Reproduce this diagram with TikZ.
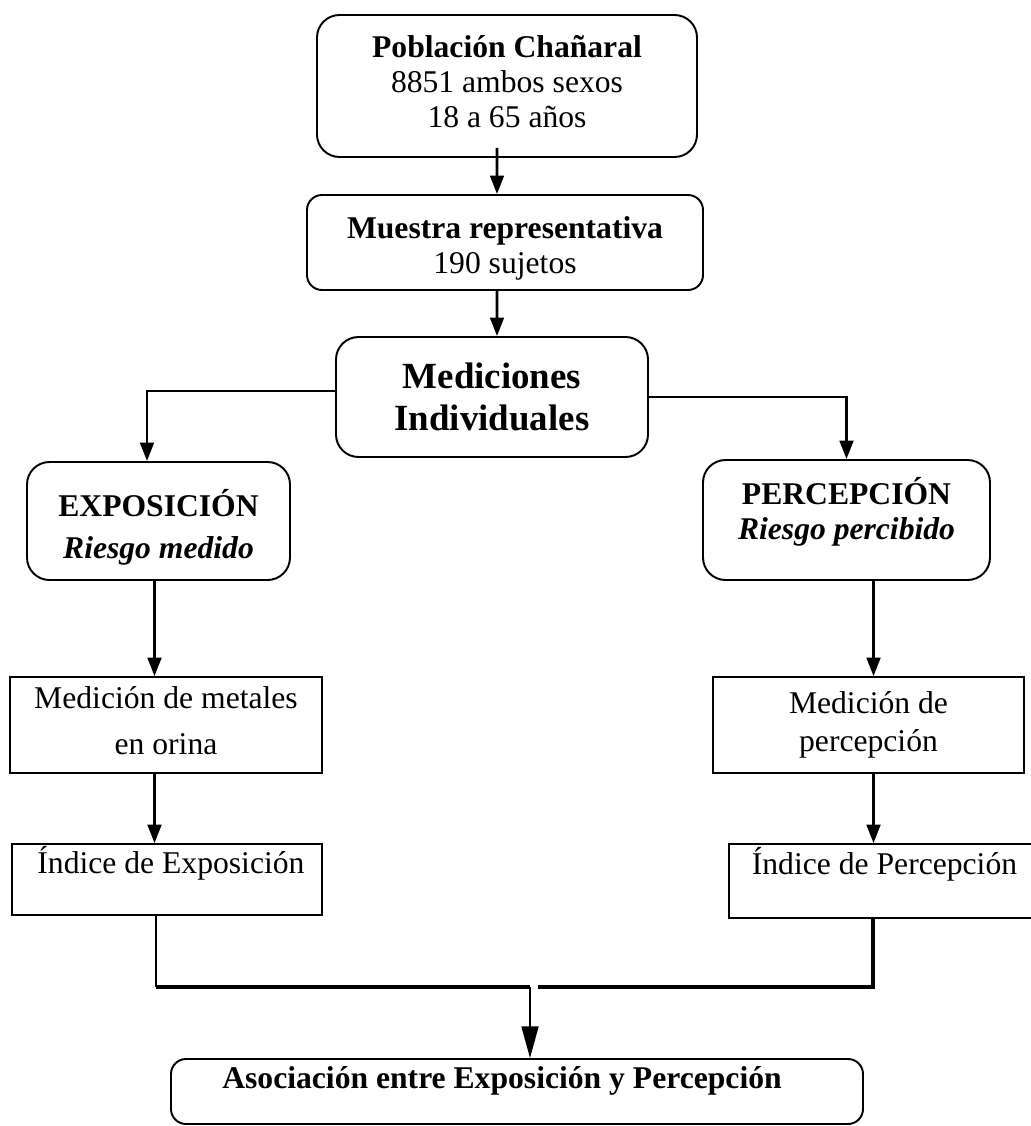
\documentclass[tikz,border=0pt]{standalone}
\usepackage{fontspec}
\setmainfont{Liberation Serif}
\usetikzlibrary{arrows.meta,calc}

\begin{document}
\begin{tikzpicture}[
    roundbox/.style={draw, line width=1.1pt, rounded corners=0.45cm, align=center,
        inner sep=0pt, font=\fontsize{18}{20}\selectfont},
    plainbox/.style={draw, line width=1pt, align=center, inner sep=0pt,
        font=\fontsize{18}{20}\selectfont},
    conn/.style={line width=1.5pt, -{Triangle[length=10.5pt,width=7.8pt]}},
    thickline/.style={line width=2.8pt},
    thinline/.style={line width=1.3pt}
]

    %% Flow of the Chañaral study

    \useasboundingbox (0, 0) rectangle (20.6, -22.52);

    % Top boxes
    \node[roundbox, minimum width=7.6cm, minimum height=2.84cm, text depth=5pt] (pob) at (10.14, -1.72)
        {\textbf{Población Chañaral}\\ 8851 ambos sexos\\ 18 a 65 años};
    \node[roundbox, rounded corners=0.3cm, minimum width=7.92cm, minimum height=1.9cm, text height=39pt] (mue) at (10.10, -4.85)
        {\textbf{Muestra representativa}\\ 190 sujetos};
    \node[roundbox, minimum width=6.24cm, minimum height=2.4cm,
        font=\fontsize{21}{24}\selectfont\bfseries] (med) at (9.84, -7.94)
        {Mediciones\\ Individuales};

    % Branches
    \node[roundbox, minimum width=5.26cm, minimum height=2.36cm, text height=47pt] (expo) at (3.17, -10.42)
        {\textbf{EXPOSICIÓN}\\[4pt] \textbf{\textit{Riesgo medido}}};
    \node[roundbox, minimum width=5.74cm, minimum height=2.4cm, text depth=13.5pt] (perc) at (16.93, -10.40)
        {\textbf{PERCEPCIÓN}\\ \textbf{\textit{Riesgo percibido}}};

    % Measurements
    \node[plainbox, minimum width=6.24cm, minimum height=1.92cm, text depth=5pt] (metal) at (3.32, -14.5)
        {Medición de metales\\[6pt] en orina};
    \node[plainbox, minimum width=6.22cm, minimum height=1.92cm] (mperc) at (17.37, -14.5)
        {Medición de\\[2pt] percepción};

    % Indices
    \node[plainbox, minimum width=6.2cm, minimum height=1.42cm, text depth=0.8cm] (iexp) at (3.34, -17.59)
        {\ Índice de Exposición};
    \node[plainbox, minimum width=6.22cm, minimum height=1.48cm, text depth=0.8cm] (iperc) at (17.69, -17.62)
        {Índice de Percepción};

    % Result
    \node[roundbox, rounded corners=0.3cm, minimum width=13.84cm, minimum height=1.3cm,
        text depth=0.56cm, font=\fontsize{18}{20}\selectfont\bfseries] (asoc) at (10.34, -21.83)
        {Asociación entre Exposición y Percepción\hspace{0.6cm}};

    % Arrows down the middle
    \draw[conn] ([xshift=-0.2cm, yshift=0.2cm]pob.south) -- ([xshift=-0.16cm]mue.north);
    \draw[conn] ([xshift=-0.16cm]mue.south) -- ([xshift=0.1cm]med.north);

    % Split to both branches
    \draw[conn] ([yshift=0.12cm]med.west) -| ([xshift=-0.23cm]expo.north);
    \draw[conn] (med.east) -| (perc.north);

    % Left column
    \draw[conn] ([xshift=-0.08cm]expo.south) -- ([xshift=-0.08cm]expo.south |- metal.north);
    \draw[conn] ([xshift=-0.08cm]expo.south |- metal.south) -- ([xshift=-0.08cm]expo.south |- iexp.north);

    % Right column
    \draw[conn] ([xshift=0.1cm]mperc.north |- perc.south) -- ([xshift=0.1cm]mperc.north);
    \draw[conn] ([xshift=0.1cm]mperc.south) -- ([xshift=0.1cm]mperc.south |- iperc.north);

    % Join into the result
    \coordinate (jl) at (10.6, -19.74);
    \coordinate (jr) at (10.76, -19.74);
    \draw[thinline] ([xshift=-0.22cm]iexp.south) -- ([xshift=-0.22cm]iexp.south |- jl);
    \draw[thickline] ([xshift=-0.22cm]iexp.south |- jl) -- (jl);
    \draw[thickline] ([xshift=-0.23cm]iperc.south) |- (jr);
    \draw[line width=1.2pt, -{Triangle[length=18pt,width=9.6pt]}] (jl) -- (jl |- asoc.north);

\end{tikzpicture}
\end{document}
